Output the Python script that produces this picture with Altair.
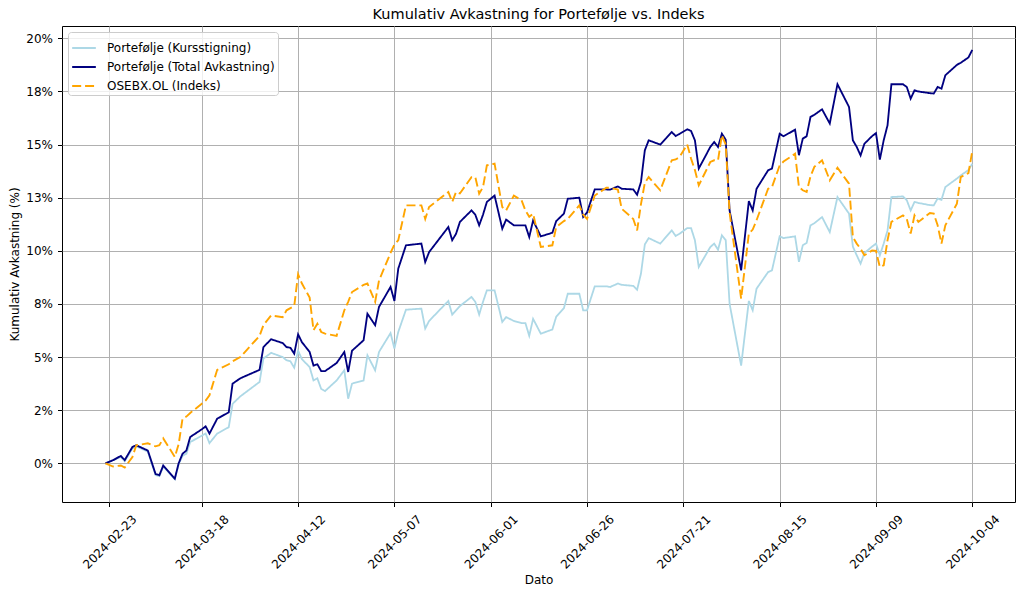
import altair as alt
import pandas as pd

# Trading-day observations (cumulative return in percent)
dates = [
    "2024-02-22", "2024-02-24", "2024-02-26", "2024-02-27", "2024-02-29", "2024-03-01",
    "2024-03-04", "2024-03-06", "2024-03-07", "2024-03-08", "2024-03-11", "2024-03-12",
    "2024-03-13", "2024-03-14", "2024-03-15", "2024-03-18", "2024-03-19", "2024-03-20",
    "2024-03-22", "2024-03-25", "2024-03-26", "2024-03-28", "2024-04-02", "2024-04-03",
    "2024-04-05", "2024-04-08", "2024-04-09", "2024-04-10", "2024-04-11", "2024-04-12",
    "2024-04-13", "2024-04-15", "2024-04-16", "2024-04-17", "2024-04-18", "2024-04-19",
    "2024-04-22", "2024-04-24", "2024-04-25", "2024-04-26", "2024-04-29", "2024-04-30",
    "2024-05-02", "2024-05-03", "2024-05-06", "2024-05-07", "2024-05-08", "2024-05-10",
    "2024-05-14", "2024-05-15", "2024-05-16", "2024-05-21", "2024-05-22", "2024-05-23",
    "2024-05-24", "2024-05-27", "2024-05-28", "2024-05-29", "2024-05-30", "2024-05-31",
    "2024-06-02", "2024-06-04", "2024-06-05", "2024-06-07", "2024-06-09", "2024-06-10",
    "2024-06-11", "2024-06-12", "2024-06-14", "2024-06-17", "2024-06-18", "2024-06-20",
    "2024-06-21", "2024-06-24", "2024-06-25", "2024-06-26", "2024-06-28", "2024-07-01",
    "2024-07-02", "2024-07-04", "2024-07-05", "2024-07-08", "2024-07-09", "2024-07-10",
    "2024-07-11", "2024-07-12", "2024-07-15", "2024-07-18", "2024-07-19", "2024-07-20",
    "2024-07-22", "2024-07-23", "2024-07-24", "2024-07-25", "2024-07-28", "2024-07-29",
    "2024-07-30", "2024-07-31", "2024-08-01", "2024-08-02", "2024-08-05", "2024-08-07",
    "2024-08-08", "2024-08-09", "2024-08-12", "2024-08-13", "2024-08-15", "2024-08-16",
    "2024-08-19", "2024-08-20", "2024-08-21", "2024-08-22", "2024-08-23", "2024-08-24",
    "2024-08-26", "2024-08-28", "2024-08-30", "2024-09-02", "2024-09-03", "2024-09-04",
    "2024-09-05", "2024-09-06", "2024-09-08", "2024-09-09", "2024-09-10", "2024-09-11",
    "2024-09-12", "2024-09-13", "2024-09-16", "2024-09-17", "2024-09-18", "2024-09-19",
    "2024-09-20", "2024-09-21", "2024-09-23", "2024-09-24", "2024-09-25", "2024-09-26",
    "2024-09-27", "2024-09-30", "2024-10-01", "2024-10-03", "2024-10-04",
]

kursstigning = [
    0.0, 0.15, 0.3, 0.1, 0.7, 0.8,
    0.55, -0.55, -0.6, -0.15, -0.75, -0.05,
    0.35, 0.45, 1.0, 1.3, 1.4, 0.95,
    1.4, 1.7, 2.8, 3.15, 3.83, 4.93,
    5.2, 5.0, 4.85, 4.8, 4.5, 5.3,
    4.9, 4.53, 3.9, 4.0, 3.5, 3.4,
    3.9, 4.38, 3.04, 3.75, 3.9, 5.08,
    4.38, 5.24, 6.13, 5.4, 6.18, 7.23,
    7.28, 6.34, 6.7, 7.64, 7.0, 7.2,
    7.4, 7.83, 7.6, 7.0, 7.6, 8.14,
    8.14, 6.65, 6.88, 6.7, 6.6, 6.6,
    6.0, 6.8, 6.1, 6.3, 6.9, 7.3,
    7.98, 7.98, 7.2, 7.2, 8.33, 8.33,
    8.3, 8.46, 8.4, 8.35, 8.17, 8.93,
    10.3, 10.6, 10.34, 10.96, 10.7, 10.8,
    11.07, 11.07, 10.5, 9.24, 10.18, 10.34,
    10.05, 10.73, 10.5, 7.51, 4.6, 7.64,
    7.2, 8.22, 9.0, 9.08, 10.68, 10.6,
    10.68, 9.48, 10.26, 10.37, 11.2, 11.3,
    11.59, 10.88, 12.53, 11.75, 10.2, 9.79,
    9.4, 9.9, 10.2, 10.34, 9.79, 10.34,
    10.96, 12.53, 12.56, 12.38, 11.9, 12.3,
    12.25, 12.22, 12.15, 12.14, 12.46, 12.4,
    13.0, 13.4, 13.55, 13.8, 14.1,
]

total_avkastning = [
    0.0, 0.15, 0.35, 0.15, 0.77, 0.85,
    0.6, -0.5, -0.56, -0.1, -0.72, 0.0,
    0.45, 0.6, 1.24, 1.6, 1.74, 1.4,
    2.1, 2.4, 3.75, 4.0, 4.4, 5.47,
    5.84, 5.66, 5.47, 5.44, 5.16, 6.07,
    5.7, 5.24, 4.6, 4.66, 4.34, 4.34,
    4.72, 5.24, 4.3, 5.3, 5.79, 7.04,
    6.5, 7.36, 8.3, 7.64, 9.16, 10.26,
    10.34, 9.47, 9.94, 11.12, 10.5, 10.8,
    11.36, 11.9, 11.7, 11.2, 11.7, 12.3,
    12.6, 11.04, 11.47, 11.2, 11.2, 11.2,
    10.65, 11.43, 10.68, 10.85, 11.4, 11.75,
    12.45, 12.5, 11.59, 11.8, 12.89, 12.89,
    12.88, 13.03, 12.92, 12.89, 12.64, 13.24,
    14.73, 15.2, 15.0, 15.59, 15.4, 15.5,
    15.72, 15.64, 15.2, 13.87, 14.89, 15.12,
    14.89, 15.51, 15.23, 11.9, 9.08, 12.34,
    11.9, 12.92, 13.79, 13.87, 15.51, 15.39,
    15.7, 14.5, 15.28, 15.39, 16.3, 16.4,
    16.66, 15.99, 17.84, 16.77, 15.2, 14.89,
    14.49, 15.04, 15.4, 15.54, 14.29, 15.2,
    15.91, 17.84, 17.84, 17.71, 17.16, 17.55,
    17.5, 17.47, 17.42, 17.4, 17.71, 17.63,
    18.26, 18.75, 18.85, 19.1, 19.46,
]

osebx = [
    0.0, -0.15, -0.1, -0.2, 0.3, 0.85,
    0.94, 0.8, 0.85, 1.17, 0.3, 0.9,
    2.1, 2.2, 2.37, 2.8, 2.95, 3.2,
    4.4, 4.66, 4.8, 5.0, 6.0, 6.5,
    6.96, 6.88, 7.2, 7.3, 7.4, 8.9,
    8.46, 7.8, 6.26, 6.57, 6.18, 6.1,
    6.0, 7.2, 7.6, 8.06, 8.4, 8.46,
    7.6, 8.6, 9.9, 10.3, 10.5, 12.14,
    12.14, 11.5, 12.06, 12.77, 12.3, 12.77,
    12.7, 13.47, 13.47, 12.69, 13.0, 14.02,
    14.1, 12.06, 11.9, 12.6, 12.38, 11.9,
    11.6, 11.75, 10.18, 10.26, 11.12, 11.4,
    11.5, 12.14, 11.7, 11.5, 12.6, 12.97,
    12.97, 12.88, 11.98, 11.5, 10.96, 12.2,
    13.2, 13.47, 12.85, 14.26, 14.3, 14.41,
    15.01, 14.34, 13.8, 13.08, 14.18, 14.26,
    14.26, 15.44, 15.0, 11.8, 7.75, 10.81,
    11.0, 11.44, 12.92, 13.0, 14.02, 14.2,
    14.57, 13.0, 12.85, 12.77, 13.5, 13.95,
    14.26, 13.32, 13.91, 13.16, 10.65, 10.34,
    10.1, 9.79, 10.02, 10.0, 9.24, 9.32,
    10.5, 11.36, 11.67, 11.5, 10.81, 11.67,
    11.36, 11.5, 11.78, 11.75, 11.2, 10.34,
    11.2, 12.22, 13.47, 13.66, 14.7,
]

series_names = [
    "Portefølje (Kursstigning)",
    "Portefølje (Total Avkastning)",
    "OSEBX.OL (Indeks)",
]
series_values = [kursstigning, total_avkastning, osebx]
series_colors = ["lightblue", "navy", "orange"]
series_widths = [1.8, 1.9, 2.5]
series_dashes = [[1, 0], [1, 0], [9, 3.9]]

x_tick_dates = [
    (2024, 2, 23), (2024, 3, 18), (2024, 4, 12), (2024, 5, 7), (2024, 6, 1),
    (2024, 6, 26), (2024, 7, 21), (2024, 8, 15), (2024, 9, 9), (2024, 10, 4),
]
y_tick_values = [0, 2.5, 5, 7.5, 10, 12.5, 15, 17.5, 20]
y_tick_labels = ["0%", "2%", "5%", "8%", "10%", "13%", "15%", "18%", "20%"]

rows = []
for name, values in zip(series_names, series_values):
    for d, v in zip(dates, values):
        rows.append({"Dato": d, "Verdi": v, "Serie": name})
df = pd.DataFrame(rows)

FONT = "DejaVu Sans"
TEXT_SIZE = 12

x_domain = [
    alt.DateTime(year=2024, month=2, date=10, hours=17, minutes=17, utc=True),
    alt.DateTime(year=2024, month=10, date=15, hours=2, minutes=0, utc=True),
]
x_values = [alt.DateTime(year=y, month=m, date=d, utc=True) for y, m, d in x_tick_dates]

label_array = "[" + ",".join("'" + s + "'" for s in y_tick_labels) + "]"

legend = alt.Legend(
    title=None,
    orient="none",
    legendX=6,
    legendY=6,
    symbolType="stroke",
    symbolSize=560,
    labelFont=FONT,
    labelFontSize=TEXT_SIZE,
    labelColor="black",
    labelLimit=0,
    labelOffset=10,
    fillColor="rgba(255,255,255,0.8)",
    strokeColor="#cccccc",
    cornerRadius=3,
    padding=3,
    rowPadding=0,
)

base = alt.Chart(df).mark_line(clip=True).encode(
    x=alt.X(
        "Dato:T",
        title="Dato",
        scale=alt.Scale(type="utc", domain=x_domain),
        axis=alt.Axis(
            values=x_values,
            format="%Y-%m-%d",
            labelAngle=-45,
            labelAlign="center",
            labelBaseline="middle",
            labelPadding=35,
            labelOverlap=False,
            labelFlush=False,
            titleY=77,
            titleBaseline="middle",
            titleFontWeight="normal",
        ),
    ),
    y=alt.Y(
        "Verdi:Q",
        title="Kumulativ Avkastning (%)",
        scale=alt.Scale(domain=[-1.82, 20.58], nice=False, zero=False),
        axis=alt.Axis(
            values=y_tick_values,
            labelExpr=label_array + "[round(datum.value / 2.5)]",
            labelPadding=5,
            titleX=-48,
            titleBaseline="middle",
            titleFontWeight="normal",
        ),
    ),
    color=alt.Color(
        "Serie:N",
        scale=alt.Scale(domain=series_names, range=series_colors),
        legend=legend,
    ),
    strokeDash=alt.StrokeDash(
        "Serie:N",
        scale=alt.Scale(domain=series_names, range=series_dashes),
        legend=legend,
    ),
    strokeWidth=alt.StrokeWidth(
        "Serie:N",
        scale=alt.Scale(domain=series_names, range=series_widths),
        legend=legend,
    ),
)

layers = [base.transform_filter(alt.datum.Serie == name) for name in series_names]

chart = (
    alt.layer(*layers)
    .properties(
        width=953,
        height=476,
        background="white",
        title=alt.TitleParams(
            "Kumulativ Avkastning for Portefølje vs. Indeks",
            font=FONT,
            fontSize=14.5,
            fontWeight="normal",
            color="black",
            anchor="middle",
            offset=4,
        ),
        autosize=alt.AutoSizeParams(type="none"),
        padding={"left": 62, "top": 26, "right": 9, "bottom": 93},
    )
    .configure_view(stroke="black", strokeWidth=1)
    .configure_axis(
        labelFont=FONT,
        labelFontSize=TEXT_SIZE,
        labelColor="black",
        titleFont=FONT,
        titleFontSize=TEXT_SIZE,
        titleFontWeight="normal",
        titleColor="black",
        tickColor="black",
        tickSize=4.5,
        tickWidth=1,
        domain=False,
        grid=True,
        gridColor="#b0b0b0",
        gridWidth=1,
    )
)

chart.save("out.html", embed_options={"renderer": "svg", "actions": False})
